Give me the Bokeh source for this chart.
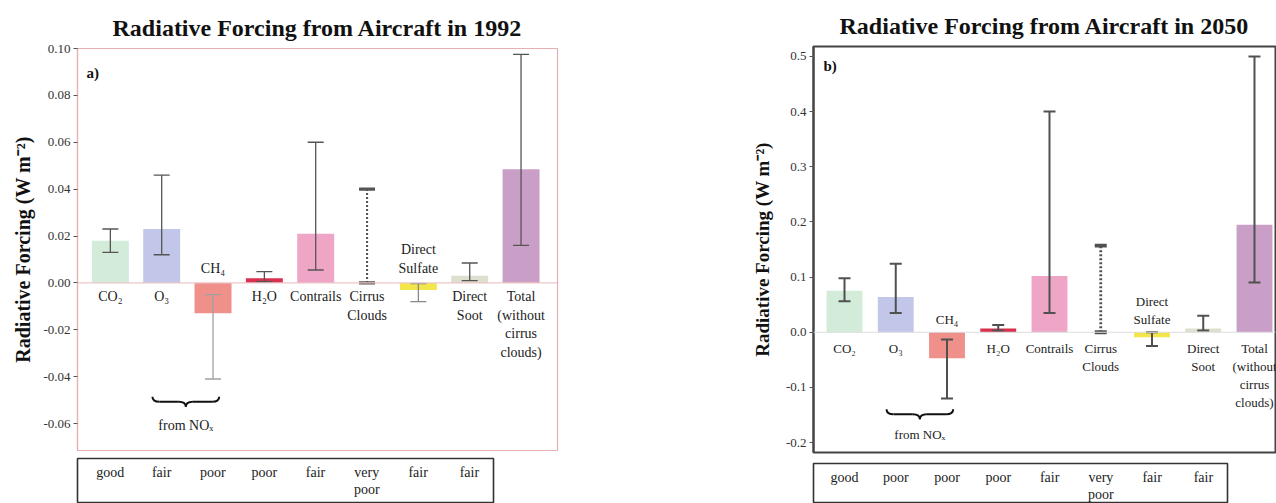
import numpy as np
from bokeh.plotting import figure
from bokeh.models import Range1d, FixedTicker, PrintfTickFormatter, Span, ColumnDataSource
from bokeh.layouts import row, column
from bokeh.embed import file_html
from bokeh.resources import INLINE
from bokeh.core.properties import value

# ---------------- data ----------------
categories = ["CO₂", "O₃", "CH₄", "H₂O", "Contrails", "Cirrus\nClouds",
              "Direct\nSulfate", "Direct\nSoot", "Total\n(without\ncirrus\nclouds)"]

rf_1992 = [0.018, 0.023, -0.013, 0.002, 0.021, 0.0, -0.003, 0.003, 0.0485]
low_1992 = [0.013, 0.012, -0.041, 0.0005, 0.0055, 0.0, -0.008, 0.001, 0.016]
high_1992 = [0.023, 0.046, -0.005, 0.0048, 0.060, 0.040, -0.0003, 0.0085, 0.0975]

rf_2050 = [0.075, 0.064, -0.047, 0.007, 0.102, 0.0, -0.009, 0.007, 0.195]
low_2050 = [0.056, 0.035, -0.120, 0.003, 0.035, 0.0, -0.025, 0.003, 0.090]
high_2050 = [0.098, 0.124, -0.013, 0.013, 0.400, 0.157, 0.0, 0.030, 0.500]

quality_1992 = ["good", "fair", "poor", "poor", "fair", "very\npoor", "fair", "fair"]
quality_2050 = ["good", "poor", "poor", "poor", "fair", "very\npoor", "fair", "fair"]

yticks_1992 = [-0.06, -0.04, -0.02, 0.0, 0.02, 0.04, 0.06, 0.08, 0.10]
yticks_2050 = [-0.2, -0.1, 0.0, 0.1, 0.2, 0.3, 0.4, 0.5]

# ---------------- style ----------------
bar_colors = ["#d3ebd9", "#c2c7ea", "#f0908a", "#d8304e", "#eea5c6",
              "#ffffff", "#f2e64a", "#dfdfd0", "#c99fc8"]
dotted_flags = [False, False, False, False, False, True, False, False, False]
FONT = "Liberation Serif"


def build_panel(cfg):
    xr, yr = cfg["xr"], cfg["yr"]
    fw, fh = cfg["fw"], cfg["fh"]
    ux = (xr[1] - xr[0]) / fw
    uy = (yr[1] - yr[0]) / fh

    p = figure(frame_width=fw, frame_height=fh,
               min_border_left=cfg["bl"], min_border_right=cfg["br"],
               min_border_top=cfg["bt"], min_border_bottom=cfg["bb"],
               x_range=Range1d(*xr), y_range=Range1d(*yr),
               x_axis_location=None, title=cfg["title"],
               output_backend="svg", toolbar_location=None)
    p.grid.visible = False
    p.background_fill_color = "white"
    p.border_fill_color = "white"
    p.outline_line_color = cfg["frame_color"]
    p.outline_line_width = cfg["frame_width"]

    p.title.text_font = FONT
    p.title.text_font_size = "24px"
    p.title.text_font_style = "bold"
    p.title.align = "center"
    p.title.text_color = "#111111"
    p.title.standoff = cfg["title_standoff"]

    ax = p.yaxis[0]
    ax.ticker = FixedTicker(ticks=cfg["yticks"])
    ax.formatter = PrintfTickFormatter(format=cfg["fmt"])
    ax.axis_label = "Radiative Forcing (W m⁻²)"
    ax.axis_label_text_font = FONT
    ax.axis_label_text_font_style = "bold"
    ax.axis_label_text_font_size = cfg["ylabel_size"]
    ax.axis_label_text_color = "#111111"
    ax.axis_label_standoff = cfg["ylabel_standoff"]
    ax.major_label_text_font = FONT
    ax.major_label_text_font_size = "13px"
    ax.major_label_text_color = "#333333"
    ax.major_label_standoff = 3
    ax.major_tick_out = 4
    ax.major_tick_in = 0
    ax.minor_tick_out = 0
    ax.minor_tick_in = 0
    ax.major_tick_line_color = "#555555"
    ax.axis_line_color = cfg["frame_color"]
    ax.axis_line_width = cfg["frame_width"]

    p.add_layout(Span(location=0, dimension="width",
                      line_color=cfg["zero_color"], line_width=1.2))

    n = len(categories)
    xs = np.arange(n, dtype=float)
    rf = np.array(cfg["rf"], dtype=float)
    lo = np.array(cfg["lo"], dtype=float)
    hi = np.array(cfg["hi"], dtype=float)

    bars = ColumnDataSource(dict(x=xs, top=rf, color=bar_colors))
    p.vbar(x="x", top="top", bottom=0, width=cfg["bar_w"], fill_color="color",
           line_color=None, source=bars)

    cw = cfg["cap_px"] / 2.0 * ux
    for flag, dash, lw in [(False, "solid", cfg["err_w"]), (True, "2 2", cfg["err_w"] + 0.8)]:
        idx = [i for i in range(n) if dotted_flags[i] == flag]
        ecol = [cfg["err_colors"][i] for i in idx]
        src = ColumnDataSource(dict(x=xs[idx], lo=lo[idx], hi=hi[idx], c=ecol))
        p.segment(x0="x", y0="lo", x1="x", y1="hi", line_color="c",
                  line_width=lw, line_dash=dash, source=src)
        caps = ColumnDataSource(dict(
            x0=np.concatenate([xs[idx] - cw, xs[idx] - cw]),
            x1=np.concatenate([xs[idx] + cw, xs[idx] + cw]),
            y=np.concatenate([lo[idx], hi[idx]]),
            c=ecol + ecol))
        p.segment(x0="x0", y0="y", x1="x1", y1="y", line_color="c",
                  line_width=lw + (1.0 if flag else 0.0), source=caps)

    # category labels: below zero for positive bars, above zero for negative bars
    below = [i for i in range(n) if rf[i] >= 0]
    above = [i for i in range(n) if rf[i] < 0]
    lab_kw = dict(text_align="center", text_font=value(FONT),
                  text_font_size=cfg["lab_size"], text_line_height=cfg["lab_lh"],
                  text_color="#222222")
    p.text(x=xs[below], y=[-cfg["lab_below_px"] * uy] * len(below),
           text=[categories[i] for i in below], text_baseline="top", **lab_kw)
    p.text(x=xs[above], y=[cfg["lab_above_px"] * uy] * len(above),
           text=[categories[i] for i in above], text_baseline="bottom", **lab_kw)

    # brace under the NOx-related terms (O3 and CH4)
    xa, xb = xs[1] - 0.18, xs[2] + 0.12
    xm = (xa + xb) / 2.0
    yt = cfg["brace_y"]
    ym = yt - 5 * uy
    ytip = yt - 10 * uy
    r = 7 * ux
    bc = "#111111"
    p.quadratic(x0=[xa, xb, xm, xm], y0=[yt, yt, ytip, ytip],
                x1=[xa + r, xb - r, xm - r, xm + r], y1=[ym, ym, ym, ym],
                cx=[xa, xb, xm, xm], cy=[ym, ym, ym, ym],
                line_color=bc, line_width=2)
    p.segment(x0=[xa + r, xm + r], y0=[ym, ym], x1=[xm - r, xb - r], y1=[ym, ym],
              line_color=bc, line_width=2)
    p.text(x=[xm], y=[yt - cfg["nox_px"] * uy], text=["from NOₓ"],
           text_align="center", text_baseline="middle", text_font=value(FONT),
           text_font_size=cfg["lab_size"], text_color="#222222")

    # panel tag
    p.text(x=[xr[0] + cfg["tag_dx"] * ux], y=[yr[1] - cfg["tag_dy"] * uy],
           text=[cfg["tag"]], text_align="left", text_baseline="middle",
           text_font=value(FONT), text_font_style="bold", text_font_size="15px",
           text_color="#111111")

    # quality table under the panel
    th = cfg["th"]
    t = figure(frame_width=cfg["tw"], frame_height=th,
               min_border_left=cfg["bl"], min_border_right=cfg["tbr"],
               min_border_top=cfg["tbt"], min_border_bottom=0,
               x_range=Range1d(xr[0], cfg["txr_end"]), y_range=Range1d(0, th),
               x_axis_location=None, y_axis_location=None,
               output_backend="svg", toolbar_location=None)
    t.grid.visible = False
    t.outline_line_color = "#333333"
    t.outline_line_width = 1.6
    q = cfg["quality"]
    t.text(x=list(range(len(q))), y=[th - 6] * len(q), text=q,
           text_align="center", text_baseline="top", text_font=value(FONT),
           text_font_size="14px", text_line_height=1.15, text_color="#222222")

    return column(p, t, spacing=0)


left_cfg = dict(
    title="Radiative Forcing from Aircraft in 1992", tag="a)",
    rf=rf_1992, lo=low_1992, hi=high_1992, quality=quality_1992,
    yticks=yticks_1992, fmt="%.2f",
    xr=(-0.64, 8.71), yr=(-0.0715, 0.10),
    fw=480, fh=402, bl=77, br=83, bt=48, bb=4,
    frame_color="#e6b0b0", frame_width=1.2, zero_color="#ecc6c6",
    title_standoff=15, ylabel_size="20px", ylabel_standoff=6,
    bar_w=0.72, cap_px=16, err_w=1.3,
    err_colors=["#555555", "#555555", "#a0a0a0", "#555555", "#555555",
                "#555555", "#888888", "#555555", "#555555"],
    lab_size="14px", lab_lh=1.25, lab_below_px=6, lab_above_px=7,
    brace_y=-0.0486, nox_px=29, tag_dx=9, tag_dy=24,
    tw=416, th=45, tbr=147, tbt=4, txr_end=7.47,
)

right_cfg = dict(
    title="Radiative Forcing from Aircraft in 2050", tag="b)",
    rf=rf_2050, lo=low_2050, hi=high_2050, quality=quality_2050,
    yticks=yticks_2050, fmt="%.1f",
    xr=(-0.605, 8.41), yr=(-0.218, 0.518),
    fw=462, fh=406, bl=173, br=1, bt=46, bb=4,
    frame_color="#444444", frame_width=2, zero_color="#dddddd",
    title_standoff=16, ylabel_size="19px", ylabel_standoff=10,
    bar_w=0.70, cap_px=12, err_w=2,
    err_colors=["#505050"] * 9,
    lab_size="13px", lab_lh=1.2, lab_below_px=9, lab_above_px=5,
    brace_y=-0.1396, nox_px=25, tag_dx=10, tag_dy=19,
    tw=414, th=40, tbr=49, tbt=7, txr_end=7.47,
)

layout = row(build_panel(left_cfg), build_panel(right_cfg), spacing=0)

open("out.html", "w").write(file_html(layout, INLINE))
